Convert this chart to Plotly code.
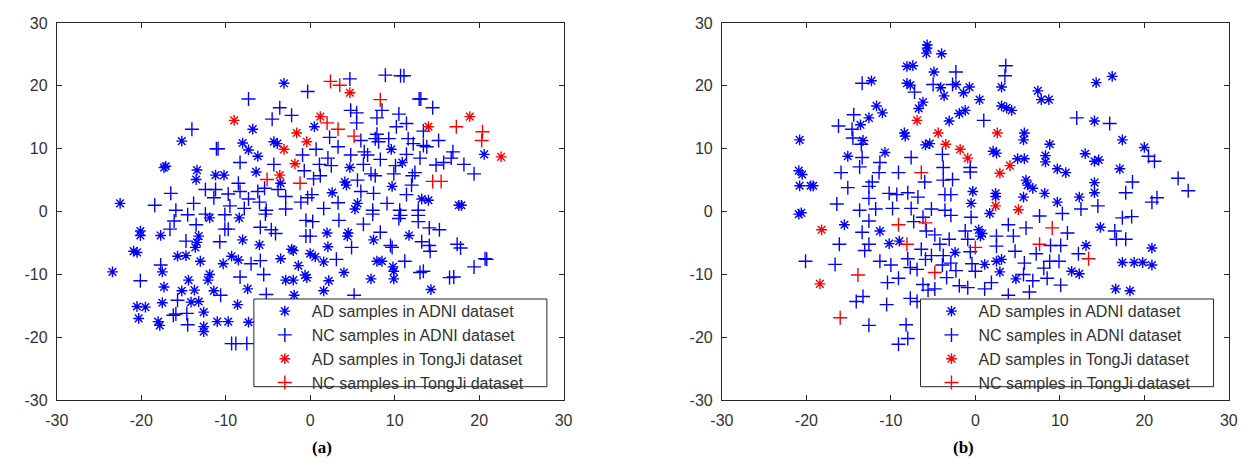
import plotly.graph_objects as go

# ---- axis ticks ----
tick_vals = [-30, -20, -10, 0, 10, 20, 30]
tick_text = ["-30", "-20", "-10", "0", "10", "20", "30"]

# ---- panel (a) ----
a_ad_adni_x = [-3.1,-6.8,0.5,-15.2,-8.0,-4.3,-3.9,-7.3,-6.2,-17.1,-17.3,-13.4,-13.5,-11.2,-10.2,-6.4,-3.5,-22.5,2.6,
	9.6,20.6,10.9,4.7,4.1,4.3,9.7,13.2,14.0,17.6,17.9,5.6,5.3,
	-11.9,-8.4,-20.1,-20.1,-17.7,-13.2,-13.4,-13.6,-8.0,-6.0,-2.2,-2.0,2.0,2.1,-20.9,-20.5,-15.7,-14.7,-13.0,-9.3,-8.5,-10.3,
	-3.5,-1.4,0.0,0.6,1.6,-23.4,-17.5,-11.9,-12.1,-2.9,-2.0,-0.6,-0.4,2.2,-17.3,-14.4,-15.2,-13.7,-11.4,-7.4,1.6,-1.9,
	-20.5,-19.5,-17.5,-14.1,-13.2,-12.6,-8.6,-20.3,-18.0,-17.8,-12.6,-12.6,-11.0,-9.7,-7.3,
	4.5,4.4,11.7,7.5,8.5,7.9,9.8,9.9,4.0,7.2,9.9,14.3]
a_ad_adni_y = [20.4,13.1,13.5,11.2,10.9,11.1,10.8,9.8,8.8,7.2,7.0,6.6,5.1,5.8,5.8,6.3,4.5,1.3,3.0,
	9.9,9.1,7.8,7.0,4.7,4.2,4.0,2.0,1.8,1.0,1.0,1.3,0.4,
	-1.0,-1.0,-3.1,-3.8,-3.8,-3.9,-4.9,-5.7,-4.5,-5.3,-6.0,-6.2,-3.4,-5.6,-6.3,-6.5,-7.1,-7.0,-7.9,-7.1,-7.7,-8.3,
	-7.5,-8.6,-6.7,-7.2,-8.0,-9.6,-9.6,-10.0,-10.9,-10.9,-10.9,-10.1,-10.5,-11.0,-12.0,-10.9,-12.6,-12.5,-12.6,-12.3,-12.6,-13.3,
	-15.1,-15.2,-14.5,-14.4,-14.3,-16.0,-14.8,-17.0,-17.5,-18.1,-18.3,-19.1,-17.5,-17.5,-17.6,
	-3.4,-3.9,-3.8,-4.5,-7.9,-7.9,-8.8,-9.5,-9.7,-10.7,-10.7,-12.4]

a_nc_adni_x = [-0.3,-7.3,-3.6,-4.5,-2.2,-14.0,-11.1,-10.9,-0.9,0.7,2.1,2.3,-8.3,-4.3,1.1,-0.7,-8.5,0.4,1.2,-12.4,-11.2,
	-16.5,-9.7,-8.3,-6.2,-5.4,-3.8,-2.9,0.2,-0.3,-1.1,-18.4,-13.8,-11.4,-7.3,-6.0,-9.5,-7.8,-15.9,-5.2,-2.9,1.6,
	4.7,8.9,10.7,11.1,12.9,13.1,14.5,4.8,5.5,8.5,7.9,10.5,5.5,11.4,10.2,13.4,7.9,7.7,8.1,9.3,6.0,11.6,12.2,13.4,13.8,
	15.2,3.3,6.4,6.8,4.8,8.3,11.4,13.0,16.9,16.7,15.8,14.9,18.2,2.5,6.3,10.1,7.2,7.7,9.9,12.4,12.1,19.4,5.6,12.0,
	6.0,7.5,11.4,9.1,3.3,7.4,10.6,12.8,
	-14.5,-12.4,-10.1,-5.3,-16.1,-0.5,0.3,-16.6,-13.5,-10.1,-9.7,-5.9,-4.6,-4.1,-0.5,0.0,-14.7,-10.7,-7.0,-5.9,-17.7,
	-20.1,-8.3,-5.5,-10.6,-15.7,-16.2,-15.9,-14.6,-14.5,-9.3,-8.8,-7.5,-5.2,
	7.4,10.7,10.5,12.8,12.8,3.4,6.3,14.1,15.3,8.3,9.5,9.7,13.2,14.1,14.2,17.4,17.8,4.9,3.1,11.2,19.4,20.7,20.9,
	13.0,13.4,16.5,17.0,5.2]
a_nc_adni_y = [19.1,17.9,16.5,14.7,15.3,13.1,10.0,10.0,9.0,9.9,8.5,11.8,7.8,7.5,7.5,6.5,4.5,5.2,5.7,3.5,3.5,
	2.9,2.8,3.2,3.2,3.7,3.5,2.4,2.7,2.2,1.5,1.0,1.3,2.2,2.0,1.5,0.9,0.5,0.2,0.2,0.4,0.5,
	21.1,21.7,21.6,21.6,17.9,17.9,16.5,16.1,15.7,16.1,14.9,15.5,14.1,14.0,13.5,12.8,12.3,11.6,11.1,11.6,11.3,11.6,10.8,10.5,10.3,
	11.3,10.3,9.5,9.0,9.0,8.3,9.1,8.5,9.5,8.5,7.8,7.4,7.5,7.3,7.5,7.3,6.0,5.7,6.0,6.2,5.7,6.0,5.0,4.2,
	3.2,2.9,2.7,1.3,1.4,0.2,0.2,0.2,
	-0.5,-0.4,-0.5,-0.4,-1.5,-1.4,-1.6,-2.8,-2.1,-2.8,-2.8,-2.5,-2.9,-3.5,-3.9,-3.9,-4.7,-4.8,-8.3,-7.8,-8.5,
	-11.0,-10.4,-10.0,-13.3,-14.1,-16.5,-16.3,-16.2,-18.0,-21.0,-21.0,-21.0,-13.2,
	-0.4,-0.6,-1.1,-0.6,-1.6,-1.4,-2.0,-2.6,-2.9,-3.3,-5.4,-5.7,-4.8,-5.4,-6.3,-5.2,-5.8,-5.7,-7.6,-7.9,-8.8,-7.5,-7.6,
	-9.7,-9.5,-10.5,-10.4,-13.3]

a_ad_tj_x = [-9.0,1.2,-1.6,-0.4,-3.1,-1.8,-3.6,4.7,14.0,18.9,22.6]
a_ad_tj_y = [14.5,15.1,12.5,11.1,9.9,7.6,5.8,18.9,13.5,15.1,8.7]

a_nc_tj_x = [-5.1,-1.2,2.4,2.0,3.5,8.3,17.3,20.4,20.3,3.3,5.2,14.5,15.5]
a_nc_tj_y = [5.1,4.5,20.7,14.1,20.1,17.8,13.5,12.7,11.3,13.1,12.0,4.8,4.8]

# ---- panel (b) ----
b_ad_adni_x = [-5.7,-5.7,-5.8,-4.0,-8.1,-7.4,-4.9,-12.3,-8.1,-7.7,-4.1,-3.7,-6.2,-6.7,-3.1,-11.7,-11.0,-12.6,-13.6,-13.3,
	-8.4,-8.3,-5.9,-5.4,-20.8,-15.1,-10.7,-20.9,-20.5,-20.8,-19.5,-19.2,-20.6,-20.9,
	-2.3,-1.4,-0.7,0.5,3.1,3.1,3.7,4.3,7.4,7.8,8.7,14.3,16.2,14.1,-1.2,-1.9,5.8,5.7,2.1,2.5,8.8,8.3,8.3,5.0,5.8,
	9.7,10.7,13.0,14.1,14.6,17.4,20.0,17.1,6.0,6.2,6.8,14.1,14.1,-0.3,2.4,2.4,5.7,8.2,9.7,12.3,-0.5,
	-15.5,-11.3,-10.2,-9.0,
	1.7,14.8,0.4,0.8,0.6,13.1,20.9,-2.4,2.5,3.1,1.1,17.4,18.8,19.8,20.9,11.4,12.3,2.9,4.8,16.6,18.3]
b_ad_adni_y = [26.5,26.0,25.2,25.1,23.1,23.2,22.2,20.8,20.4,20.1,19.7,18.4,17.4,16.4,14.4,16.8,15.7,14.9,13.8,11.3,
	12.5,12.0,10.6,10.8,11.4,8.8,9.4,6.5,5.9,4.1,4.1,4.1,-0.2,-0.4,
	20.2,18.9,19.8,17.8,19.8,16.8,16.5,16.1,19.2,17.8,17.8,20.5,21.5,14.4,16.1,15.6,12.5,11.4,9.6,9.3,10.7,8.9,7.9,8.4,8.4,
	6.8,6.2,9.2,8.0,8.2,11.4,10.2,6.8,5.0,4.2,3.7,4.6,3.0,3.2,2.9,2.4,2.3,2.9,1.5,2.3,1.3,
	-2.1,-3.1,-5.1,-4.7,
	-0.3,-2.5,-2.9,-3.5,-3.9,-5.4,-5.8,-6.5,-7.9,-7.6,-8.4,-8.1,-8.1,-8.1,-8.5,-9.5,-9.9,-9.6,-10.7,-12.3,-12.6]

b_nc_adni_x = [-13.4,-7.2,-5.0,-2.7,-14.4,-16.2,-14.6,-14.5,-13.5,-13.4,-7.6,-3.9,-13.7,-11.3,-11.4,-9.1,-6.0,-3.8,-3.8,
	-15.9,-15.1,-12.6,-12.2,-12.6,-10.2,-9.3,-8.0,-6.8,-3.6,-2.9,-16.4,-13.7,-11.8,-9.8,-7.6,-5.2,-3.6,
	3.6,3.5,-2.3,12.0,15.9,1.0,-0.6,-0.6,20.5,21.2,-2.7,18.6,17.8,24.0,25.2,14.5,12.5,21.5,20.9,
	-13.4,-12.6,-12.6,-13.1,-7.3,-6.2,-5.8,-4.8,-16.1,-20.1,-16.6,-11.3,-10.0,-8.0,-7.7,-6.9,-6.4,-5.9,-5.2,-4.2,
	-3.8,-3.9,-3.4,-9.1,-10.4,-6.2,-4.8,-5.6,-14.1,-13.3,-10.5,-7.7,-6.9,-12.6,-8.2,-8.0,-9.1,
	-2.9,-0.5,7.6,10.3,17.4,18.5,3.9,6.0,10.9,16.5,16.7,17.8,-1.2,-0.9,2.5,4.5,-3.1,8.9,10.1,-0.6,2.5,4.7,7.2,12.2,
	8.8,9.9,-2.9,-2.3,-0.4,0.0,5.8,8.1,5.7,6.8,8.5,10.1,-1.9,-0.9,1.1,1.9,6.4,3.9]
b_nc_adni_y = [20.4,19.0,20.2,20.2,15.4,13.6,13.1,11.7,10.7,8.6,8.6,9.1,7.1,7.8,6.2,6.2,4.7,7.0,5.0,
	6.2,3.8,4.0,4.7,2.1,2.9,2.7,3.0,2.3,2.7,2.7,1.2,0.2,0.4,0.5,0.5,0.4,0.2,
	23.2,21.6,22.2,14.9,14.0,14.5,7.0,6.3,8.8,8.0,5.1,4.7,3.0,5.3,3.3,0.9,0.4,2.2,1.5,
	-3.3,-1.5,-5.2,-6.2,-1.6,-0.9,-3.1,-3.7,-5.2,-7.9,-8.4,-7.9,-8.5,-7.5,-8.9,-9.2,-6.0,-7.6,-7.0,-5.2,
	-7.0,-8.5,-10.5,-10.6,-11.3,-11.6,-12.3,-12.5,-14.3,-13.5,-14.8,-13.8,-14.3,-18.1,-18.0,-20.2,-21.1,
	-0.6,-0.9,-0.7,-0.3,-1.0,-0.8,-2.1,-2.6,-3.4,-3.1,-4.4,-4.4,-3.1,-4.4,-3.9,-3.9,-4.4,-5.4,-5.4,-6.4,-5.5,-6.3,-6.7,-6.7,
	-7.9,-7.9,-8.2,-9.4,-8.3,-9.5,-8.2,-9.0,-10.0,-11.0,-10.6,-11.7,-11.8,-12.1,-12.3,-11.3,-12.8,-13.3]

b_ad_tj_x = [-6.9,-4.4,-3.5,2.6,-1.8,-0.9,4.1,2.9,2.4,5.1,-18.2,-18.4]
b_ad_tj_y = [14.5,12.5,10.7,12.5,9.9,8.5,7.3,6.1,0.9,0.3,-2.9,-11.5]

b_nc_tj_x = [-6.4,-9.1,-8.1,-5.9,-13.9,-4.8,-16.0,9.1,0.0,7.6,13.4]
b_nc_tj_y = [6.2,-2.1,-5.2,-1.8,-10.1,-9.7,-16.9,-2.6,-5.7,-5.2,-7.5]

names = ["AD samples in ADNI dataset", "NC samples in ADNI dataset",
	"AD samples in TongJi dataset", "NC samples in TongJi dataset"]

W, H = 1255, 467
BLUE, RED = "#0000ff", "#ff0000"
GREY = "#262626"
FONT = "Liberation Sans, Arial"

def add_panel(fig, data, xa, ya, legend):
	styles = [("asterisk-open", BLUE, 9), ("cross-thin-open", BLUE, 10),
			("asterisk-open", RED, 9), ("cross-thin-open", RED, 10)]
	for (x, y), name, (sym, col, sz) in zip(data, names, styles):
		fig.add_trace(go.Scatter(x=x, y=y, mode="markers", name=name,
			xaxis=xa, yaxis=ya, legend=legend, legendgroup=legend+name,
			marker=dict(symbol=sym, size=sz, color=col, line=dict(width=1.4, color=col))))

fig = go.Figure()
add_panel(fig, [(a_ad_adni_x, a_ad_adni_y), (a_nc_adni_x, a_nc_adni_y),
	(a_ad_tj_x, a_ad_tj_y), (a_nc_tj_x, a_nc_tj_y)], "x", "y", "legend")
add_panel(fig, [(b_ad_adni_x, b_ad_adni_y), (b_nc_adni_x, b_nc_adni_y),
	(b_ad_tj_x, b_ad_tj_y), (b_nc_tj_x, b_nc_tj_y)], "x2", "y2", "legend2")

ydom = [1 - 407/H, 1 - 15.5/H]
ax = dict(range=[-30, 30], tickmode="array", tickvals=tick_vals, ticktext=tick_text,
	showgrid=False, zeroline=False,
	showline=True, linecolor=GREY, linewidth=1, mirror="ticks", ticks="inside", ticklen=5,
	tickcolor=GREY, tickfont=dict(family=FONT, size=16, color="#333333"))
xax = dict(ax, ticklabelstandoff=6)
yax = dict(ax, ticklabelstandoff=5)

fig.update_layout(
	width=W, height=H, autosize=False, margin=dict(l=0, r=0, t=0, b=0),
	paper_bgcolor="white", plot_bgcolor="white",
	xaxis=dict(xax, domain=[45.5/W, 561/W], anchor="y"),
	yaxis=dict(yax, domain=ydom, anchor="x"),
	xaxis2=dict(xax, domain=[722/W, 1237.5/W], anchor="y2"),
	yaxis2=dict(yax, domain=ydom, anchor="x2"),
)

leg = dict(bgcolor="rgba(0,0,0,0)", borderwidth=0, tracegroupgap=0, itemwidth=44,
	xanchor="left", yanchor="top",
	font=dict(family=FONT, size=16, color="#333333"), itemsizing="trace")
fig.update_layout(legend=dict(leg, x=250/W, y=1 - 297/H), legend2=dict(leg, x=928/W, y=1 - 297/H))

# legend boxes (white fill hides the points behind, like the original)
for x0, x1 in [(246, 544), (924, 1222)]:
	fig.add_shape(type="rect", xref="paper", yref="paper", x0=x0/W, x1=x1/W, y0=1 - 393/H, y1=1 - 302/H,
		fillcolor="white", line=dict(color=GREY, width=1), layer="above")

for lab, cx in [("(a)", 303), ("(b)", 980)]:
	fig.add_annotation(text="<b>" + lab + "</b>", x=cx/W, y=1 - 456/H, xref="paper", yref="paper",
		yanchor="middle", showarrow=False,
		font=dict(family="Liberation Serif, Times New Roman", size=17, color="black"))

fig.write_html("out.html", config={"displayModeBar": False},
	post_script="document.body.style.margin='0px';")
